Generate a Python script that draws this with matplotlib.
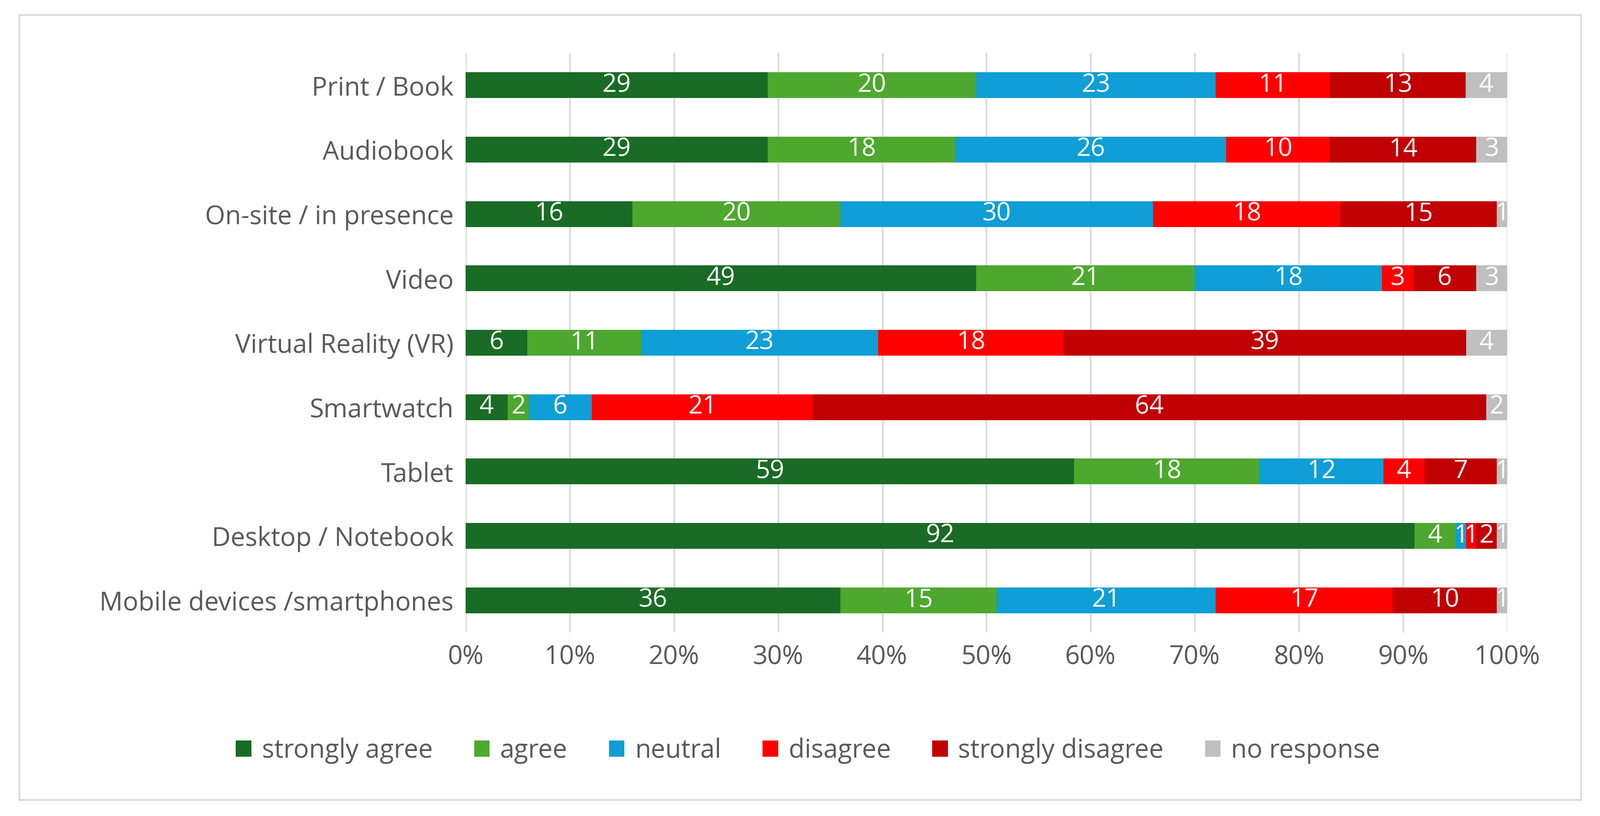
import matplotlib
matplotlib.use("Agg")
import matplotlib.pyplot as plt
import numpy as np
from matplotlib.patches import Rectangle

plt.rcParams["font.family"] = "Open Sans"

categories = ["Print / Book", "Audiobook", "On-site / in presence", "Video",
              "Virtual Reality (VR)", "Smartwatch", "Tablet", "Desktop / Notebook",
              "Mobile devices /smartphones"]
series = ["strongly agree", "agree", "neutral", "disagree", "strongly disagree", "no response"]
strongly_agree = [29, 29, 16, 49, 6, 4, 59, 92, 36]
agree = [20, 18, 20, 21, 11, 2, 18, 4, 15]
neutral = [23, 26, 30, 18, 23, 6, 12, 1, 21]
disagree = [11, 10, 18, 3, 18, 21, 4, 1, 17]
strongly_disagree = [13, 14, 15, 6, 39, 64, 7, 2, 10]
no_response = [4, 3, 1, 3, 4, 2, 1, 1, 1]
colors = ["#1a6b25", "#4ea72e", "#0f9ed5", "#ff0000", "#c00000", "#bfbfbf"]

data = np.array([strongly_agree, agree, neutral, disagree, strongly_disagree, no_response], float)
totals = data.sum(axis=0)
frac = data / totals

fig = plt.figure(figsize=(33.47, 17.07), dpi=100)
fig.patches.append(Rectangle((0.012, 0.02), 0.976, 0.962, transform=fig.transFigure,
                             fill=False, edgecolor="#d9d9d9", linewidth=2.5))
ax = fig.add_axes([0.291, 0.225, 0.651, 0.71])
y = np.arange(len(categories))
left = np.zeros(len(categories))
for i, s in enumerate(series):
    ax.barh(y, frac[i], left=left, height=0.4, color=colors[i], label=s, zorder=3)
    for j in range(len(categories)):
        ax.text(left[j] + frac[i][j] / 2, y[j], f"{int(data[i][j])}", ha="center", va="center",
                color="white", fontsize=38, zorder=4)
    left += frac[i]
ax.set_ylim(len(categories) - 0.5, -0.5)
ax.set_xlim(0, 1)
ax.set_yticks(y)
ax.set_yticklabels(categories, fontsize=39, color="#595959")
ax.set_xticks(np.linspace(0, 1, 11))
ax.set_xticklabels([f"{int(v)}%" for v in np.linspace(0, 100, 11)], fontsize=39, color="#595959")
ax.tick_params(length=0, pad=18)
ax.grid(axis="x", color="#d9d9d9", linewidth=2.5, zorder=0)
for sp in ax.spines.values():
    sp.set_visible(False)
fig.legend(loc="center", bbox_to_anchor=(0.505, 0.08), ncol=6, frameon=False, fontsize=39,
           labelcolor="#595959", handlelength=0.6, handleheight=0.6, handletextpad=0.4, columnspacing=1.6)
fig.savefig("out.png", dpi=100)
